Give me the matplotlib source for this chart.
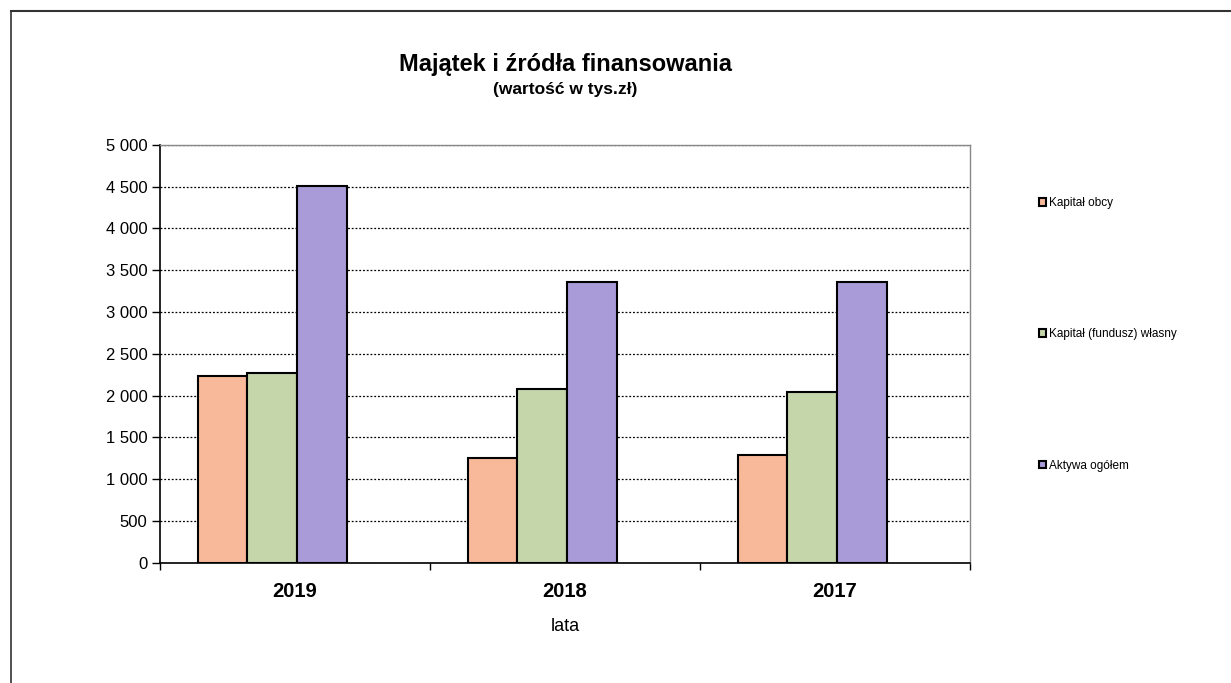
import matplotlib.pyplot as plt
import numpy as np
from matplotlib.patches import Patch
from matplotlib.ticker import FuncFormatter, FixedLocator

plt.rcParams['font.family'] = ['Liberation Sans', 'DejaVu Sans']

years = ['2019', '2018', '2017']
kapital_obcy = [2235, 1255, 1290]
kapital_wlasny = [2270, 2080, 2045]
aktywa = [4510, 3360, 3360]
labels = ['Kapitał obcy', 'Kapitał (fundusz) własny', 'Aktywa ogółem']
colors = ['#F8B99B', '#C5D6AA', '#A99BD8']

fig = plt.figure(figsize=(12.31, 6.83), dpi=100)
ax = fig.add_axes([0.130, 0.176, 0.658, 0.612])

x = np.arange(len(years))
w = 0.184
shift = -0.085  # groups sit a little left of the category centre, as in the original
for i, (vals, c) in enumerate(zip([kapital_obcy, kapital_wlasny, aktywa], colors)):
    ax.bar(x + shift + (i - 1) * w, vals, width=w, color=c, edgecolor='black',
           linewidth=1.5, zorder=3)

ax.set_xlim(-0.5, 2.5)
ax.set_ylim(0, 5000)
ax.set_yticks(np.arange(0, 5001, 500))
ax.yaxis.set_major_formatter(FuncFormatter(lambda v, p: f'{int(v):,}'.replace(',', ' ')))
ax.grid(axis='y', color='black', linestyle=(0, (1.5, 1.5)), linewidth=0.9, zorder=1)

ax.set_xticks(x)
ax.set_xticklabels(years, fontsize=14.5, fontweight='bold')
ax.xaxis.set_minor_locator(FixedLocator([-0.5, 0.5, 1.5, 2.5]))
ax.tick_params(axis='x', which='major', length=0, pad=14)
ax.tick_params(axis='x', which='minor', length=5, direction='out', width=1)
ax.tick_params(axis='y', length=6, direction='out', labelsize=12, width=1, pad=3)
ax.set_xlabel('lata', fontsize=13, labelpad=12)

for s in ['left', 'bottom']:
    ax.spines[s].set_color('black')
    ax.spines[s].set_linewidth(1.2)
for s in ['top', 'right']:
    ax.spines[s].set_color('#888888')
    ax.spines[s].set_linewidth(1)

fig.text(0.459, 0.906, 'Majątek i źródła finansowania', ha='center', va='center',
         fontsize=17, fontweight='bold')
fig.text(0.459, 0.869, '(wartość w tys.zł)', ha='center', va='center',
         fontsize=12.5, fontweight='bold')

handles = [Patch(facecolor=c, edgecolor='black', linewidth=1.5) for c in colors]
fig.legend(handles, labels, loc='upper left', bbox_to_anchor=(0.835, 0.727),
           frameon=False, fontsize=8.5, handlelength=0.6, handleheight=0.6,
           handletextpad=0.3, labelspacing=10.1)

# frame around the chart area
fig.add_artist(plt.Line2D([0.009, 1.0], [0.984, 0.984], color='#333333', linewidth=1.5))
fig.add_artist(plt.Line2D([0.009, 0.009], [0.0, 0.984], color='#333333', linewidth=1.2))

fig.savefig('out.png', dpi=100)
